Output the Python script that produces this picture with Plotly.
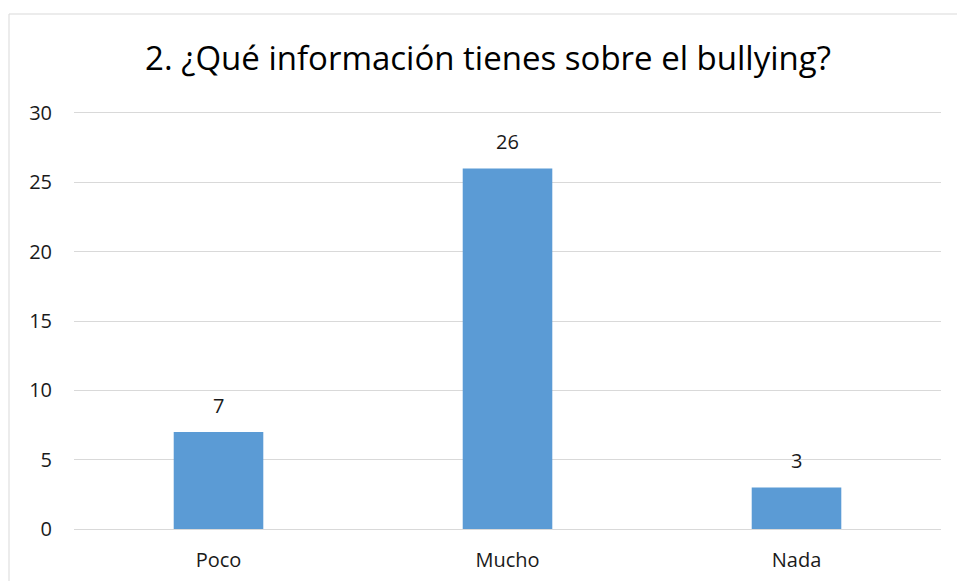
import plotly.graph_objects as go

categories = ["Poco", "Mucho", "Nada"]
values = [7, 26, 3]
y_ticks = [0, 5, 10, 15, 20, 25, 30]
title_text = "2. ¿Qué información tienes sobre el bullying?"

W, H = 957, 581
# desired plot area in window pixels
PL, PR, PT, PB = 74, 941, 113, 529
L, T, R, B = PL, PT, W - PR, H - PB
pw, ph = W - L - R, H - T - B

def px_x(px):
    return (px - PL) / pw

def px_y(py):
    return (PB - py) / ph

FONT = "Open Sans"

fig = go.Figure()
fig.add_trace(go.Bar(
    x=categories, y=values,
    marker=dict(color="#5B9BD5", line=dict(width=0)),
    width=0.31,
    hoverinfo="x+y",
))

for c, v in zip(categories, values):
    fig.add_annotation(x=c, y=v, text=str(v), showarrow=False,
                       yanchor="bottom", yshift=11,
                       font=dict(family=FONT, size=20, color="#1a1a1a"))

# outer chart border (partly cropped by the image edges)
fig.add_shape(type="rect", xref="paper", yref="paper",
              x0=px_x(9), x1=px_x(1010), y0=px_y(620), y1=px_y(14),
              line=dict(color="#D9D9D9", width=1), fillcolor="rgba(0,0,0,0)",
              layer="below")

fig.update_layout(
    width=W, height=H,
    margin=dict(l=L, r=R, t=T, b=B, autoexpand=False),
    paper_bgcolor="white", plot_bgcolor="white",
    title=dict(text=title_text, x=px_x(488), xref="paper", xanchor="center",
               y=1 - 58 / H, yanchor="middle",
               font=dict(family=FONT, size=33, color="#000000")),
    showlegend=False,
    bargap=0.69,
    xaxis=dict(showgrid=False, showline=True, mirror=True, linecolor="#D9D9D9",
               linewidth=1, zeroline=False, ticks="", automargin=False,
               tickfont=dict(family=FONT, size=20, color="#1a1a1a"),
               ticklabelstandoff=13),
    yaxis=dict(range=[0, 30], tickvals=y_ticks, showgrid=True, gridcolor="#D9D9D9",
               gridwidth=1, zeroline=True, zerolinecolor="#D9D9D9", zerolinewidth=1,
               showline=False, ticks="", automargin=False,
               tickfont=dict(family=FONT, size=20, color="#1a1a1a"),
               ticklabelstandoff=21),
)

fig.write_html(
    "out.html",
    config={"displayModeBar": False},
    post_script="document.body.style.margin='0';document.body.style.overflow='hidden';"
                "document.documentElement.style.overflow='hidden';",
)
